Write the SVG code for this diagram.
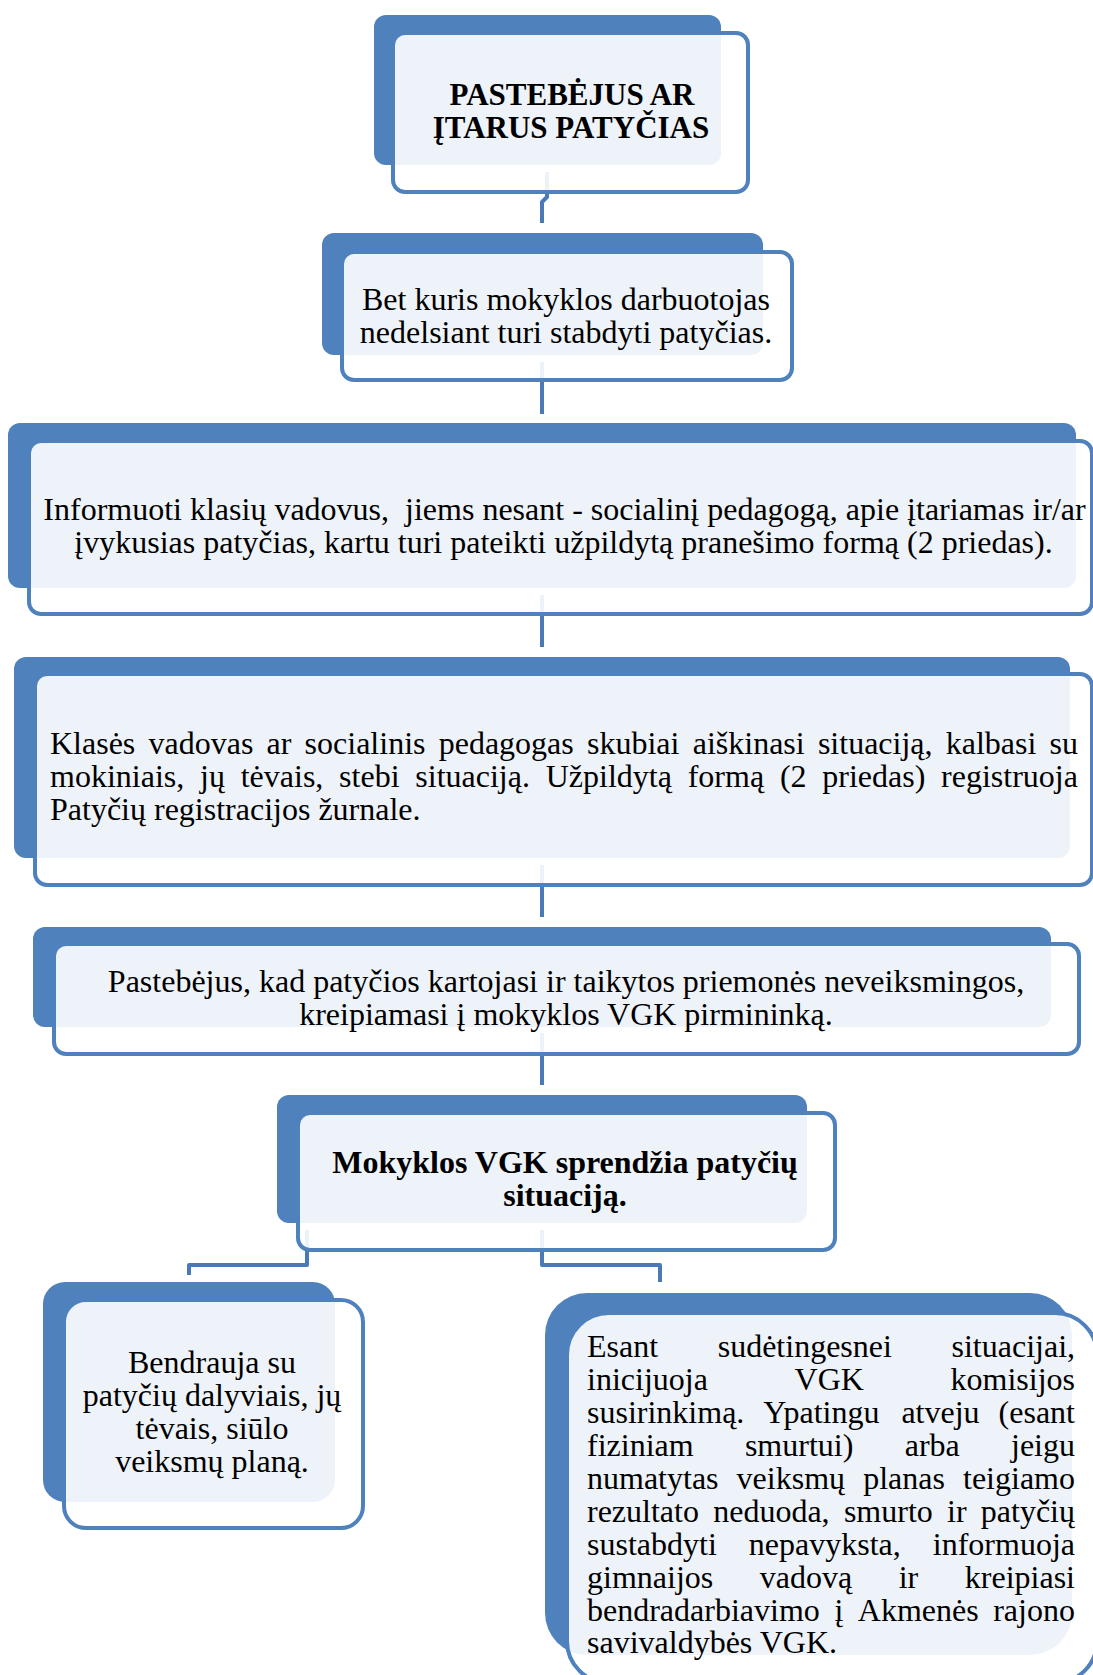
<svg xmlns="http://www.w3.org/2000/svg" width="1093" height="1675" viewBox="0 0 1093 1675">
<style>
.back{fill:#4F81BD}
.front{fill:#FFFFFF;fill-opacity:0.9;stroke:#4F81BD;stroke-width:4}
.conn{fill:none;stroke:#4A7AB6;stroke-width:4;stroke-linejoin:round}
text{font-family:"Liberation Serif","Times New Roman",serif;font-size:32px;fill:#000}
.c{text-anchor:middle}
.b{font-weight:bold}
</style>
<rect width="1093" height="1675" fill="#FFFFFF"/>
<g id="connectors">
<path class="conn" d="M547,172 V197 L542,202 V223"/>
<path class="conn" d="M542,362 V414"/>
<path class="conn" d="M542,595 V647"/>
<path class="conn" d="M542,865 V917"/>
<path class="conn" d="M542,1033 V1085"/>
<path class="conn" d="M307,1230 V1265 H189 V1275"/>
<path class="conn" d="M542,1230 V1265 H660 V1282"/>
</g>
<g id="node1">
<rect class="back" x="374" y="15" width="347" height="150" rx="12"/>
<rect class="front" x="393" y="33" width="355" height="159" rx="12"/>
<text class="c b" x="572" y="105" style="font-size:31px">PASTEBĖJUS AR</text>
<text class="c b" x="571" y="138" style="font-size:31px">ĮTARUS PATYČIAS</text>
</g>
<g id="node2">
<rect class="back" x="322" y="233" width="441" height="122" rx="12"/>
<rect class="front" x="342" y="252" width="450" height="128" rx="12"/>
<text class="c" x="566" y="309.5">Bet kuris mokyklos darbuotojas</text>
<text class="c" x="566" y="342.5">nedelsiant turi stabdyti patyčias.</text>
</g>
<g id="node3">
<rect class="back" x="8" y="423" width="1068" height="165" rx="12"/>
<rect class="front" x="29" y="441" width="1063" height="173" rx="12"/>
<text class="c" x="564.5" y="520">Informuoti klasių vadovus,&#160; jiems nesant - socialinį pedagogą, apie įtariamas ir/ar</text>
<text class="c" x="563.5" y="553">įvykusias patyčias, kartu turi pateikti užpildytą pranešimo formą (2 priedas).</text>
</g>
<g id="node4">
<rect class="back" x="14" y="657" width="1056" height="201" rx="12"/>
<rect class="front" x="35" y="674" width="1057" height="211" rx="12"/>
<text y="754"><tspan x="50">Klasės </tspan><tspan x="148.5">vadovas </tspan><tspan x="266.6">ar </tspan><tspan x="304.6">socialinis </tspan><tspan x="438.7">pedagogas </tspan><tspan x="587">skubiai </tspan><tspan x="692.7">aiškinasi </tspan><tspan x="817.9">situaciją, </tspan><tspan x="945.7">kalbasi </tspan><tspan x="1049.6">su</tspan></text>
<text y="787"><tspan x="50">mokiniais, </tspan><tspan x="200">jų </tspan><tspan x="240.7">tėvais, </tspan><tspan x="339.1">stebi </tspan><tspan x="415.3">situaciją. </tspan><tspan x="545.7">Užpildytą </tspan><tspan x="687.7">formą </tspan><tspan x="779.9">(2 </tspan><tspan x="822.3">priedas) </tspan><tspan x="941.1">registruoja</tspan></text>
<text x="50" y="820">Patyčių registracijos žurnale.</text>
</g>
<g id="node5">
<rect class="back" x="33" y="927" width="1018" height="100" rx="12"/>
<rect class="front" x="54" y="944" width="1025" height="110" rx="12"/>
<text class="c" x="566" y="992">Pastebėjus, kad patyčios kartojasi ir taikytos priemonės neveiksmingos,</text>
<text class="c" x="566" y="1025">kreipiamasi į mokyklos VGK pirmininką.</text>
</g>
<g id="node6">
<rect class="back" x="277" y="1095" width="530" height="128" rx="12"/>
<rect class="front" x="298" y="1113" width="537" height="137" rx="12"/>
<text class="c b" x="565" y="1172.5">Mokyklos VGK sprendžia patyčių</text>
<text class="c b" x="565" y="1205.5">situaciją.</text>
</g>
<g id="node7">
<rect class="back" x="43" y="1282" width="292" height="220" rx="22"/>
<rect class="front" x="64" y="1300" width="299" height="228" rx="22"/>
<text class="c" x="212" y="1373">Bendrauja su</text>
<text class="c" x="212" y="1406">patyčių dalyviais, jų</text>
<text class="c" x="212" y="1439">tėvais, siūlo</text>
<text class="c" x="212" y="1472">veiksmų planą.</text>
</g>
<g id="node8">
<rect class="back" x="545" y="1293" width="527" height="362" rx="42"/>
<rect class="front" x="567" y="1313" width="530" height="370" rx="42"/>
<text y="1357"><tspan x="587">Esant </tspan><tspan x="717.7">sudėtingesnei </tspan><tspan x="951.5">situacijai,</tspan></text>
<text y="1390"><tspan x="587">inicijuoja </tspan><tspan x="794.6">VGK </tspan><tspan x="950.5">komisijos</tspan></text>
<text y="1423"><tspan x="587">susirinkimą. </tspan><tspan x="763.3">Ypatingu </tspan><tspan x="901.4">atveju </tspan><tspan x="998.6">(esant</tspan></text>
<text y="1456"><tspan x="587">fiziniam </tspan><tspan x="744.9">smurtui) </tspan><tspan x="904.7">arba </tspan><tspan x="1011">jeigu</tspan></text>
<text y="1489"><tspan x="587">numatytas </tspan><tspan x="736.6">veiksmų </tspan><tspan x="863.2">planas </tspan><tspan x="963">teigiamo</tspan></text>
<text y="1521.5"><tspan x="587">rezultato </tspan><tspan x="713.2">neduoda, </tspan><tspan x="843.9">smurto </tspan><tspan x="947">ir </tspan><tspan x="980.8">patyčių</tspan></text>
<text y="1554.5"><tspan x="587">sustabdyti </tspan><tspan x="748.8">nepavyksta, </tspan><tspan x="932.8">informuoja</tspan></text>
<text y="1587.5"><tspan x="587">gimnaijos </tspan><tspan x="759.8">vadovą </tspan><tspan x="898.7">ir </tspan><tspan x="964.8">kreipiasi</tspan></text>
<text y="1620.5"><tspan x="587">bendradarbiavimo </tspan><tspan x="834.4">į </tspan><tspan x="857.8">Akmenės </tspan><tspan x="993.2">rajono</tspan></text>
<text x="587" y="1653">savivaldybės VGK.</text>
</g>
</svg>
